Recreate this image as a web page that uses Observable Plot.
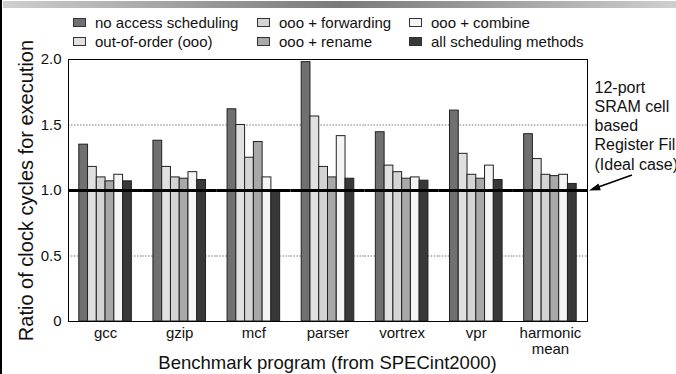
<!DOCTYPE html>
<html>
<head>
<meta charset="utf-8">
<script src="https://cdn.jsdelivr.net/npm/d3@7"></script>
<script src="https://cdn.jsdelivr.net/npm/@observablehq/plot@0.6"></script>
<style>
  html, body { margin: 0; padding: 0; background: #fff; }
  body { width: 676px; height: 374px; overflow: hidden; position: relative;
         font-family: "Liberation Sans", Arial, Helvetica, sans-serif; color: #111; }
  #topbar { position: absolute; left: 3px; top: 1px; width: 673px; height: 7px;
            background: linear-gradient(to right, #cfcfcf 0%, #9a9a9a 30%, #7a7a7a 50%, #9a9a9a 70%, #cfcfcf 100%); }
  #leftline { position: absolute; left: 0; top: 0; width: 2px; height: 374px; background: #000; }
  #legend { position: relative; height: 50px; box-sizing: border-box; padding: 13px 0 0 73px;
            display: grid; grid-template-columns: 184px 152px auto; grid-auto-rows: 19px;
            font-size: 15px; }
  .item { display: flex; align-items: center; white-space: nowrap; }
  .sw { width: 13px; height: 9px; border: 1px solid #333; box-sizing: border-box; margin-right: 9px; flex: none; }
  #chart { position: relative; height: 302px; }
  #chart svg { overflow: visible; }
  #chart .overlay { position: absolute; left: 0; top: 0; pointer-events: none; }
  #xtitle { height: 22px; line-height: 22px; font-size: 18.5px; padding-left: 68px; width: 519px; text-align: center; white-space: nowrap; }
  #arrow { position: absolute; left: 580px; top: 165px; }
</style>
</head>
<body>
<div id="topbar"></div>
<div id="leftline"></div>
<div id="legend"></div>
<div id="chart"></div>
<div id="xtitle">Benchmark program (from SPECint2000)</div>
<svg id="arrow" width="60" height="32" viewBox="0 0 60 32">
  <line x1="52" y1="10" x2="17" y2="22.5" stroke="#000" stroke-width="1.6"/>
  <path d="M9,25.5 L18.5,18.6 L20.8,25.2 Z" fill="#000"/>
</svg>
<script>
// ---- data ----
const benchmarks = ["gcc", "gzip", "mcf", "parser", "vortrex", "vpr", "harmonic mean"];
const benchmarkLabels = ["gcc", "gzip", "mcf", "parser", "vortrex", "vpr", "harmonic\nmean"];
const seriesNames = ["no access scheduling", "out-of-order (ooo)", "ooo + forwarding", "ooo + rename", "ooo + combine", "all scheduling methods"];
const seriesColors = ["#707070", "#e0e0e0", "#d4d4d4", "#a8a8a8", "#f5f5f5", "#383838"];
const noAccess    = [1.35, 1.38, 1.62, 1.98, 1.445, 1.61, 1.43];
const outOfOrder  = [1.18, 1.18, 1.50, 1.565, 1.19, 1.28, 1.24];
const forwarding  = [1.10, 1.10, 1.25, 1.18, 1.14, 1.12, 1.12];
const rename      = [1.07, 1.09, 1.37, 1.10, 1.09, 1.09, 1.11];
const combine     = [1.12, 1.14, 1.10, 1.415, 1.10, 1.19, 1.12];
const allMethods  = [1.07, 1.08, 1.00, 1.09, 1.075, 1.08, 1.05];
const yTicks = [0, 0.5, 1, 1.5, 2];
const yTickLabels = ["0", "0.5", "1.0", "1.5", "2.0"];
const gridValues = [0.5, 1.5];
const idealValue = 1.0;
const yLabel = "Ratio of clock cycles for execution";
const annotation = "12-port\nSRAM cell\nbased\nRegister File\n(Ideal case)";

const seriesValues = [noAccess, outOfOrder, forwarding, rename, combine, allMethods];
const table = [];
benchmarks.forEach((b, i) => seriesNames.forEach((s, j) => table.push({bench: b, series: s, value: seriesValues[j][i]})));

// ---- legend (column-major: 3 columns x 2 rows) ----
const legendOrder = [0, 2, 4, 1, 3, 5];
const legend = document.getElementById("legend");
legendOrder.forEach(k => {
  const it = document.createElement("div");
  it.className = "item";
  const sw = document.createElement("span");
  sw.className = "sw";
  sw.style.background = seriesColors[k];
  it.appendChild(sw);
  it.appendChild(document.createTextNode(seriesNames[k]));
  legend.appendChild(it);
});

// ---- chart ----
const dims = {width: 676, height: 302, marginTop: 9, marginBottom: 31, marginLeft: 68, marginRight: 89};
const chart = Plot.plot({
  ...dims,
  style: {fontFamily: '"Liberation Sans", Arial, Helvetica, sans-serif', fontSize: "15px", background: "transparent", color: "#111", overflow: "visible"},
  fx: {domain: benchmarks, paddingInner: 0, paddingOuter: 0, round: false},
  x: {domain: seriesNames, paddingInner: 0, paddingOuter: 1.23, round: false, axis: null},
  y: {domain: [0, 2]},
  color: {domain: seriesNames, range: seriesColors},
  marks: [
    Plot.ruleY(gridValues, {stroke: "#777", strokeWidth: 1, strokeDasharray: "1.5,1.5"}),
    Plot.barY(table, {fx: "bench", x: "series", y: "value", fill: "series", stroke: "#222", strokeWidth: 1}),
    Plot.ruleY([0, 2], {stroke: "#000", strokeWidth: 1}),
    Plot.ruleY([idealValue], {stroke: "#000", strokeWidth: 3}),
    Plot.axisY({ticks: yTicks, tickFormat: d => yTickLabels[yTicks.indexOf(d)], tickSize: 0, tickPadding: 7, fontSize: 15, label: null}),
    Plot.axisY({ticks: [], label: yLabel, labelAnchor: "center", labelArrow: false, labelOffset: 50, fontSize: 20}),
    Plot.axisFx({anchor: "bottom", tickSize: 0, tickPadding: 6, fontSize: 15, label: null, lineHeight: 1.02,
                 tickFormat: d => benchmarkLabels[benchmarks.indexOf(d)]}),
    Plot.text([{bench: "harmonic mean", y: 1.5, label: annotation}], {fx: "bench", y: "y", text: "label",
                 frameAnchor: "right", textAnchor: "start", lineAnchor: "middle", dx: 7, lineHeight: 1.2, fontSize: 16, fill: "#111"})
  ]
});
document.getElementById("chart").appendChild(chart);

// un-faceted overlay with the same dimensions, drawing the single plot frame
const frameOverlay = Plot.plot({
  ...dims,
  style: {background: "transparent", overflow: "visible"},
  x: {domain: [0, 1], axis: null},
  y: {domain: [0, 2], axis: null},
  marks: [Plot.frame({stroke: "#000", strokeWidth: 1})]
});
frameOverlay.classList.add("overlay");
document.getElementById("chart").appendChild(frameOverlay);
</script>
</body>
</html>
